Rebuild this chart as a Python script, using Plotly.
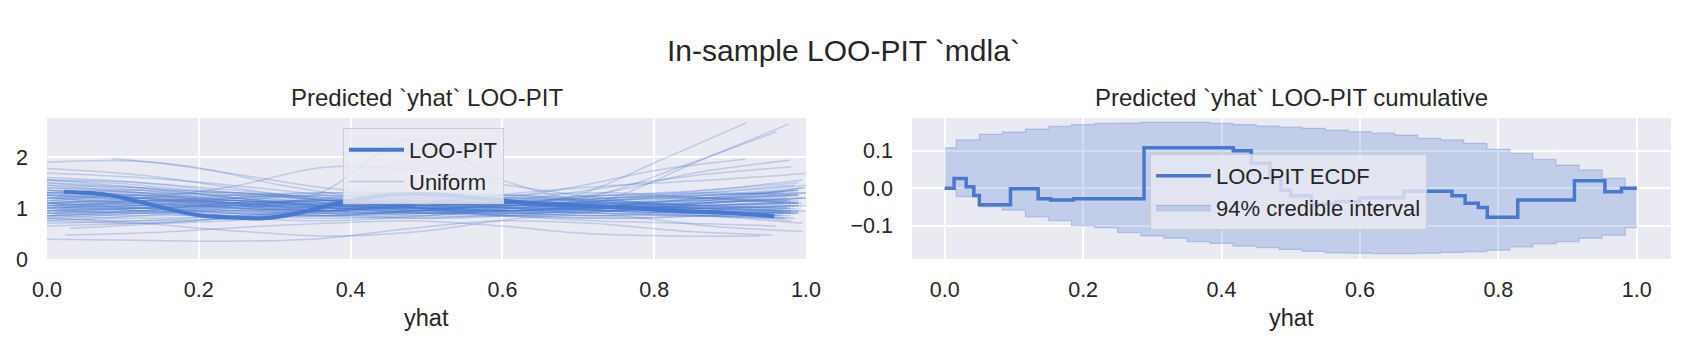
import numpy as np
import plotly.graph_objects as go

W, H = 1686, 344
BG = "#EAEAF2"
C0 = "#4878D0"
TXT = "#262626"
FONT = "Liberation Sans, Arial, sans-serif"

# ---------------- left panel: LOO-PIT KDE ----------------
kde_x = [0.022, 0.08, 0.12, 0.166, 0.20, 0.25, 0.285, 0.33, 0.373, 0.417,
         0.452, 0.50, 0.55, 0.575, 0.641, 0.729, 0.816, 0.904, 0.958]
kde_y = [1.32, 1.26, 1.13, 0.96, 0.86, 0.81, 0.80, 0.90, 1.06, 1.19,
         1.26, 1.27, 1.23, 1.19, 1.09, 1.03, 0.96, 0.90, 0.84]

# uniform reference KDEs: start, end and 9 evenly spaced values each
unif_start = [0.0, 0.085, 0.0, 0.0, 0.02, 0.0, 0.01, 0.0, 0.0, 0.0, 0.0, 0.0, 0.024, 0.0,
              0.0, 0.0, 0.0, 0.0, 0.005, 0.0, 0.0, 0.01, 0.0, 0.0, 0.0, 0.015, 0.0, 0.0,
              0.0, 0.0, 0.0, 0.02, 0.0, 0.0, 0.0, 0.0, 0.01, 0.0, 0.0, 0.0, 0.0, 0.0,
              0.0, 0.005, 0.0, 0.0, 0.0, 0.0, 0.0, 0.0, 0.0, 0.0, 0.0, 0.03, 0.0,
              0.0, 0.0, 0.0, 0.01, 0.0, 0.0, 0.0, 0.0, 0.0, 0.0, 0.005, 0.0, 0.0, 0.0,
              0.0, 0.0, 0.0, 0.0, 0.0, 0.0]
unif_end = [0.97, 0.98, 0.97, 0.96, 0.922, 0.977, 0.961, 0.92, 0.979, 0.981, 1.0, 0.955, 0.94, 0.996,
            0.98, 0.97, 0.99, 0.98, 0.995, 0.97, 1.0, 0.99, 0.985, 0.975, 0.99, 0.96, 0.99, 1.0,
            0.98, 0.99, 0.97, 0.995, 0.96, 0.99, 1.0, 0.985, 0.975, 0.99, 0.98, 1.0, 0.97, 0.99,
            0.98, 0.99, 0.965, 1.0, 0.985, 0.975, 0.99, 0.995, 0.96, 0.98, 0.99, 0.995, 0.985,
            0.99, 0.98, 1.0, 0.97, 0.99, 0.985, 0.99, 0.975, 1.0, 0.99, 0.98, 0.995, 0.97, 0.99,
            0.985, 1.0, 0.98, 0.99, 0.975, 0.995]
unif_y = [
    [1.90, 1.92, 1.68, 1.40, 1.25, 1.15, 1.05, 1.00, 0.95],
    [1.97, 1.80, 1.45, 1.20, 1.05, 1.00, 0.95, 1.05, 1.10],
    [1.25, 1.20, 1.42, 1.80, 1.75, 1.45, 1.20, 1.05, 1.10],
    [1.10, 1.00, 0.95, 1.30, 2.35, 1.55, 1.10, 1.00, 0.95],
    [1.00, 1.15, 1.05, 0.90, 0.95, 1.05, 1.25, 1.95, 2.68],
    [0.85, 0.95, 1.10, 1.15, 1.00, 0.95, 1.15, 1.90, 2.65],
    [1.20, 1.05, 0.90, 0.85, 0.95, 1.05, 1.25, 1.85, 2.50],
    [1.30, 1.25, 1.10, 0.95, 1.00, 1.15, 1.40, 1.75, 1.96],
    [0.95, 1.00, 1.15, 1.25, 1.15, 1.10, 1.30, 1.70, 1.94],
    [1.55, 1.40, 1.20, 1.05, 1.00, 1.15, 1.40, 1.65, 1.81],
    [1.05, 1.10, 1.00, 0.95, 1.10, 1.30, 1.45, 1.55, 1.68],
    [0.39, 0.37, 0.35, 0.40, 0.60, 0.75, 0.70, 0.55, 0.47],
    [0.47, 0.52, 0.62, 0.70, 0.75, 0.65, 0.50, 0.45, 0.45],
    [0.80, 0.70, 0.55, 0.45, 0.55, 0.80, 0.85, 0.65, 0.54],
    [1.78, 1.65, 1.40, 1.15, 1.00, 0.90, 0.85, 0.95, 1.05],
    [1.69, 1.60, 1.45, 1.25, 1.05, 0.95, 0.90, 0.85, 0.80],
    [1.55, 1.45, 1.25, 1.10, 1.00, 0.95, 0.98, 1.05, 1.15],
    [0.75, 0.85, 1.00, 1.10, 1.15, 1.10, 1.00, 0.95, 0.90],
    [1.10, 1.20, 1.25, 1.15, 1.00, 0.90, 0.85, 0.90, 1.00],
    [0.90, 0.95, 0.90, 0.85, 0.95, 1.10, 1.20, 1.25, 1.30],
    [1.35, 1.30, 1.15, 1.00, 0.90, 0.85, 0.95, 1.10, 1.20],
    [0.95, 0.90, 0.80, 0.75, 0.85, 1.00, 1.15, 1.20, 1.25],
    [1.45, 1.40, 1.30, 1.20, 1.05, 0.95, 0.90, 0.95, 1.00],
    [1.15, 1.05, 0.95, 0.90, 0.95, 1.05, 1.10, 1.05, 1.00],
    [0.85, 0.80, 0.85, 0.95, 1.10, 1.25, 1.30, 1.20, 1.10],
    [1.25, 1.20, 1.05, 0.90, 0.80, 0.85, 1.00, 1.15, 1.25],
    [1.60, 1.50, 1.30, 1.15, 1.05, 1.00, 1.00, 1.05, 1.10],
    [1.00, 1.05, 1.10, 1.05, 0.95, 0.85, 0.80, 0.85, 0.95],
    [0.70, 0.75, 0.85, 1.00, 1.15, 1.20, 1.10, 1.00, 0.95],
    [1.30, 1.20, 1.00, 0.85, 0.80, 0.90, 1.05, 1.20, 1.35],
    [1.05, 1.10, 1.20, 1.25, 1.15, 1.00, 0.90, 0.85, 0.85],
    [0.95, 1.00, 1.05, 1.00, 0.90, 0.90, 1.00, 1.15, 1.40],
    [1.40, 1.30, 1.10, 0.95, 0.90, 0.95, 1.00, 0.95, 0.85],
    [0.80, 0.90, 1.05, 1.15, 1.20, 1.15, 1.05, 0.95, 0.90],
    [1.20, 1.10, 0.95, 0.85, 0.90, 1.05, 1.20, 1.30, 1.45],
    [1.50, 1.35, 1.15, 1.05, 1.05, 1.10, 1.10, 1.00, 0.90],
    [0.90, 0.95, 1.05, 1.20, 1.30, 1.25, 1.10, 0.95, 0.80],
    [1.10, 1.00, 0.90, 0.95, 1.05, 1.15, 1.25, 1.35, 1.50],
    [1.00, 0.95, 0.85, 0.80, 0.85, 0.95, 1.00, 0.90, 0.75],
    [1.25, 1.30, 1.25, 1.15, 1.05, 1.00, 1.05, 1.15, 1.30],
    [0.75, 0.70, 0.75, 0.90, 1.05, 1.15, 1.15, 1.05, 0.95],
    [1.35, 1.25, 1.10, 1.00, 1.00, 1.05, 1.15, 1.25, 1.35],
    [1.15, 1.25, 1.30, 1.20, 1.00, 0.85, 0.80, 0.85, 0.95],
    [0.85, 0.95, 1.10, 1.15, 1.10, 1.00, 0.95, 1.00, 1.10],
    [1.05, 1.00, 0.95, 1.00, 1.10, 1.20, 1.15, 1.00, 0.85],
    [1.45, 1.30, 1.10, 0.95, 0.90, 0.95, 1.10, 1.25, 1.40],
    [0.95, 1.05, 1.20, 1.30, 1.25, 1.10, 0.95, 0.85, 0.80],
    [1.20, 1.15, 1.05, 1.00, 1.00, 1.00, 1.05, 1.10, 1.15],
    [0.80, 0.75, 0.80, 0.95, 1.05, 1.05, 0.95, 0.90, 0.95],
    [1.30, 1.35, 1.30, 1.15, 1.00, 0.95, 1.00, 1.10, 1.20],
    [1.00, 1.05, 1.15, 1.10, 1.00, 0.85, 0.75, 0.70, 0.65],
    [0.65, 0.70, 0.80, 0.95, 1.05, 1.10, 1.10, 1.15, 1.25],
    [1.55, 1.50, 1.35, 1.20, 1.10, 1.05, 1.00, 1.00, 1.05],
    [0.60, 0.70, 0.85, 1.00, 1.10, 1.10, 1.00, 0.85, 0.70],
    [1.10, 1.15, 1.15, 1.05, 0.95, 0.95, 1.05, 1.20, 1.35],
    [1.20, 1.25, 1.15, 1.05, 1.00, 1.05, 1.15, 1.25, 1.30],
    [0.90, 0.85, 0.90, 1.05, 1.20, 1.25, 1.15, 1.05, 1.00],
    [1.40, 1.35, 1.20, 1.05, 0.95, 0.95, 1.05, 1.20, 1.30],
    [1.05, 1.15, 1.20, 1.10, 0.95, 0.90, 0.95, 1.05, 1.10],
    [0.95, 0.90, 0.95, 1.05, 1.15, 1.15, 1.05, 1.00, 1.05],
    [1.25, 1.15, 1.00, 0.90, 0.90, 1.00, 1.15, 1.30, 1.45],
    [1.10, 1.05, 1.05, 1.10, 1.15, 1.10, 1.00, 0.95, 0.95],
    [0.85, 0.90, 1.00, 1.05, 1.00, 0.95, 1.00, 1.10, 1.20],
    [1.50, 1.40, 1.20, 1.00, 0.90, 0.90, 0.95, 1.00, 1.05],
    [1.00, 1.10, 1.25, 1.30, 1.20, 1.05, 0.95, 0.90, 0.90],
    [1.15, 1.10, 1.00, 0.95, 1.00, 1.10, 1.20, 1.20, 1.15],
    [0.95, 1.00, 1.00, 0.95, 0.95, 1.05, 1.20, 1.35, 1.55],
    [1.30, 1.25, 1.15, 1.10, 1.05, 1.00, 0.95, 0.90, 0.90],
    [1.05, 0.95, 0.85, 0.85, 0.95, 1.10, 1.25, 1.30, 1.25],
    [1.20, 1.20, 1.10, 1.00, 0.95, 1.00, 1.10, 1.15, 1.10],
    [0.90, 1.00, 1.10, 1.15, 1.10, 1.05, 1.05, 1.10, 1.20],
    [1.35, 1.20, 1.05, 1.00, 1.05, 1.10, 1.05, 0.95, 0.85],
    [1.10, 1.15, 1.10, 0.95, 0.85, 0.85, 0.95, 1.10, 1.25],
    [1.00, 1.00, 1.05, 1.15, 1.20, 1.15, 1.05, 1.00, 1.00],
    [1.25, 1.20, 1.10, 1.05, 1.10, 1.20, 1.25, 1.20, 1.10],
]

# ---------------- right panel: ECDF difference ----------------
ecdf_x = [0.0, 0.0135, 0.031, 0.042, 0.050, 0.095, 0.135, 0.153, 0.186, 0.288,
          0.417, 0.443, 0.470, 0.486, 0.500, 0.530, 0.565, 0.600, 0.663, 0.733,
          0.752, 0.771, 0.784, 0.828, 0.910, 0.954, 0.978, 1.0]
ecdf_y = [0.0, 0.026, 0.004, -0.019, -0.044, -0.001, -0.028, -0.031, -0.028, 0.108,
          0.100, 0.067, 0.027, -0.005, -0.020, -0.042, -0.035, -0.025, -0.008, -0.020,
          -0.040, -0.051, -0.077, -0.031, 0.020, -0.009, 0.0, 0.0]

band_x = [0.0, 0.0333, 0.0667, 0.1, 0.1333, 0.1667, 0.2, 0.2333, 0.2667, 0.3, 0.3333,
          0.3667, 0.4, 0.4333, 0.4667, 0.5, 0.5333, 0.5667, 0.6, 0.6333, 0.6667,
          0.7, 0.7333, 0.7667, 0.8, 0.8333, 0.8667, 0.9, 0.9333, 0.9667, 1.0]
band_upper = [0.108, 0.129, 0.144, 0.150, 0.158, 0.165, 0.170, 0.173, 0.174, 0.176, 0.176,
              0.176, 0.173, 0.170, 0.166, 0.163, 0.160, 0.155, 0.151, 0.147, 0.142,
              0.133, 0.129, 0.120, 0.104, 0.093, 0.077, 0.062, 0.049, 0.027, 0.003]
band_lower = [-0.003, -0.022, -0.049, -0.058, -0.076, -0.086, -0.100, -0.105, -0.118, -0.127, -0.133,
              -0.142, -0.147, -0.154, -0.158, -0.163, -0.168, -0.172, -0.173, -0.174, -0.174,
              -0.173, -0.171, -0.169, -0.165, -0.156, -0.148, -0.142, -0.133, -0.125, -0.105]

fig = go.Figure()

for i, (s, e, ys) in enumerate(zip(unif_start, unif_end, unif_y)):
    xs = np.linspace(s, e, len(ys))
    fig.add_trace(go.Scatter(
        x=xs, y=ys, mode="lines",
        line=dict(color="rgba(72,120,208,0.27)", width=1.5, shape="spline", smoothing=1.0),
        name="Uniform", showlegend=(i == 0), legend="legend", legendrank=2,
        hoverinfo="skip", xaxis="x", yaxis="y"))

fig.add_trace(go.Scatter(
    x=kde_x, y=kde_y, mode="lines", line=dict(color=C0, width=4, shape="spline"),
    name="LOO-PIT", legend="legend", legendrank=1, xaxis="x", yaxis="y"))

fig.add_trace(go.Scatter(
    x=band_x, y=band_lower, mode="lines", line=dict(color="rgba(72,120,208,0.3)", width=1.2, shape="hvh"),
    showlegend=False, xaxis="x2", yaxis="y2", hoverinfo="skip"))
fig.add_trace(go.Scatter(
    x=band_x, y=band_upper, mode="lines", line=dict(color="rgba(72,120,208,0.3)", width=1.2, shape="hvh"),
    fill="tonexty", fillcolor="rgba(72,120,208,0.25)",
    name="94% credible interval", legend="legend2", legendrank=2, xaxis="x2", yaxis="y2"))
fig.add_trace(go.Scatter(
    x=ecdf_x, y=ecdf_y, mode="lines", line=dict(color=C0, width=3.5, shape="hv"),
    name="LOO-PIT ECDF", legend="legend2", legendrank=1, xaxis="x2", yaxis="y2"))

TICK = 21.5
LEG = 22
axis_common = dict(showgrid=True, gridcolor="white", gridwidth=1.8, zeroline=False,
                   showline=False, ticks="", automargin=False,
                   tickfont=dict(size=TICK, color=TXT, family=FONT))

xl = [47 / W, 806 / W]
xr = [912 / W, 1671 / W]
yd = [(H - 259) / H, (H - 118) / H]

legend_common = dict(xanchor="left", yanchor="top", bgcolor="rgba(234,234,242,0.8)",
                     bordercolor="#CCCCCC", borderwidth=1, itemwidth=55,
                     font=dict(size=LEG, color=TXT, family=FONT), traceorder="normal")

fig.update_layout(
    width=W, height=H, margin=dict(l=0, r=0, t=0, b=0, autoexpand=False),
    paper_bgcolor="white", plot_bgcolor=BG,
    font=dict(family=FONT, color=TXT),
    xaxis=dict(domain=xl, range=[0, 1], anchor="y", tickvals=[0, 0.2, 0.4, 0.6, 0.8, 1.0],
               tickformat=".1f", ticklabelstandoff=15, **axis_common),
    yaxis=dict(domain=yd, range=[0, 2.77], anchor="x", tickvals=[0, 1, 2],
               ticklabelstandoff=18, **axis_common),
    xaxis2=dict(domain=xr, range=[-0.0473, 1.0495], anchor="y2", tickvals=[0, 0.2, 0.4, 0.6, 0.8, 1.0],
                tickformat=".1f", ticklabelstandoff=15, **axis_common),
    yaxis2=dict(domain=yd, range=[-0.1885, 0.1875], anchor="x2", tickvals=[-0.1, 0.0, 0.1],
                ticktext=["\u22120.1", "0.0", "0.1"], ticklabelstandoff=18, **axis_common),
    legend=dict(x=343 / W, y=1 - 128 / H, **legend_common),
    legend2=dict(x=1150 / W, y=1 - 154 / H, **legend_common),
    showlegend=True,
)

ann = [
    dict(text="In-sample LOO-PIT `mdla`", x=0.5, y=1 - 50 / H, size=30),
    dict(text="Predicted `yhat` LOO-PIT", x=(47 + 806) / 2 / W, y=1 - 97 / H, size=24),
    dict(text="Predicted `yhat` LOO-PIT cumulative", x=(912 + 1671) / 2 / W, y=1 - 97 / H, size=24),
    dict(text="yhat", x=(47 + 806) / 2 / W, y=1 - 318 / H, size=23.5),
    dict(text="yhat", x=(912 + 1671) / 2 / W, y=1 - 318 / H, size=23.5),
]
for a in ann:
    fig.add_annotation(text=a["text"], x=a["x"], y=a["y"], xref="paper", yref="paper",
                       xanchor="center", yanchor="middle", showarrow=False,
                       font=dict(size=a["size"], color=TXT, family=FONT))

fig.write_html("out.html")
